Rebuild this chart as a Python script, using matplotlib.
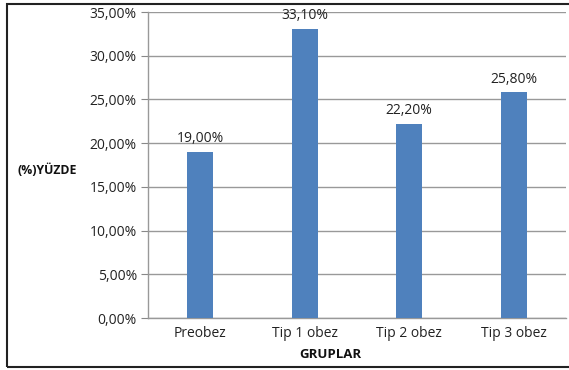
import matplotlib
matplotlib.use("Agg")
import matplotlib.pyplot as plt
from matplotlib.patches import Rectangle
from matplotlib.ticker import FuncFormatter, MultipleLocator

categories = ["Preobez", "Tip 1 obez", "Tip 2 obez", "Tip 3 obez"]
values = [19.00, 33.10, 22.20, 25.80]

plt.rcParams['font.family'] = ['Open Sans', 'DejaVu Sans']

W, H = 569, 370
fig = plt.figure(figsize=(W/100, H/100), dpi=100)
ax = fig.add_axes([148/W, 1-318/H, 418/W, 306/H])

x = list(range(len(categories)))
ax.bar(x, values, width=0.25, color="#4F81BD", zorder=3)
ax.set_xlim(-0.5, len(categories)-0.5)
ax.set_ylim(0, 35)
ax.yaxis.set_major_locator(MultipleLocator(5))
fmt = lambda v, p: f"{v:.2f}".replace(".", ",") + "%"
ax.yaxis.set_major_formatter(FuncFormatter(fmt))
ax.set_xticks(x)
ax.set_xticklabels(categories, fontsize=10, color="#222222")
ax.tick_params(axis='x', length=0, pad=6)
ax.tick_params(axis='y', length=5, color="#888888", labelsize=10, labelcolor="#222222", pad=3)
ax.grid(axis='y', color="#999999", linewidth=1, zorder=0)
for s in ["top", "right"]:
    ax.spines[s].set_visible(False)
for s in ["left", "bottom"]:
    ax.spines[s].set_color("#999999")
    ax.spines[s].set_linewidth(1)

for xi, v in zip(x, values):
    ax.annotate(fmt(v, None), (xi, v), xytext=(0, 4), textcoords="offset points",
                ha="center", va="bottom", fontsize=10, color="#222222")

fig.text(47/W, 1-170/H, "(%)YÜZDE", ha="center", va="center", fontsize=8.8, fontweight="bold", color="#111111")
fig.text(330/W, 1-355/H, "GRUPLAR", ha="center", va="center", fontsize=9.5, fontweight="bold", color="#111111")

fig.patches.append(Rectangle((7/W, 1-367/H), (W+5-7)/W, (367-4)/H, transform=fig.transFigure,
                             fill=False, edgecolor="#222222", linewidth=1.5))

fig.savefig("out.png", dpi=100)
